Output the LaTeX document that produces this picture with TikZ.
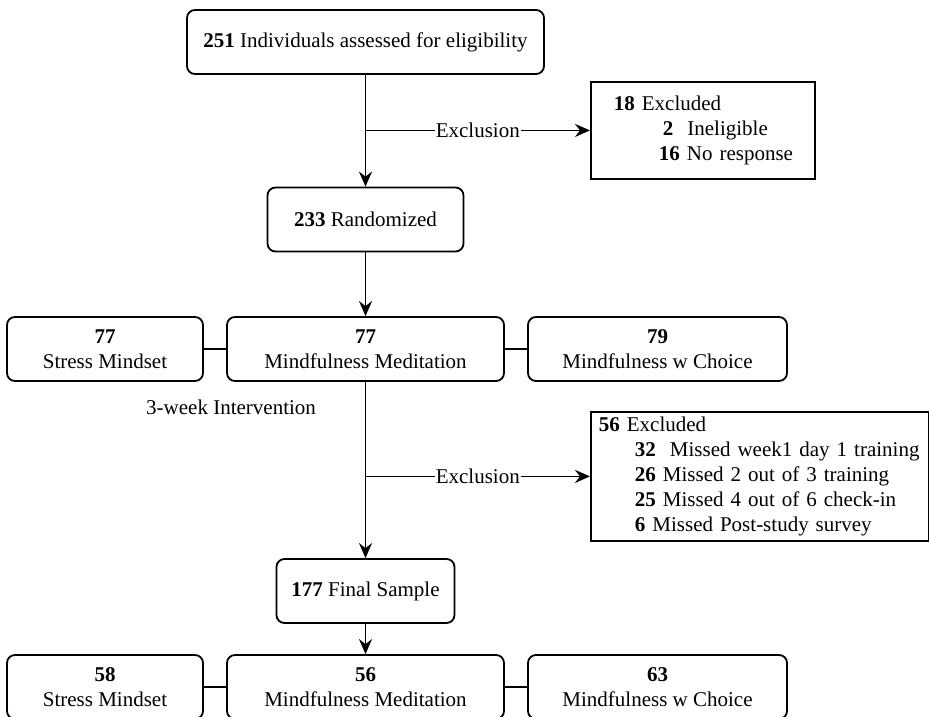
\documentclass[tikz,border=0pt]{standalone}
\usepackage{fontspec}
\setmainfont{Liberation Serif}
\usetikzlibrary{arrows.meta}

\tikzset{
    box/.style={draw, rounded corners=8pt, align=center, minimum height=64pt, inner sep=0pt},
    exclbox/.style={draw, align=left, anchor=north west, inner sep=0pt},
    flow/.style={-{Stealth[length=15pt, width=13pt, inset=5pt]}},
    tag/.style={fill=white, inner sep=1pt},
}

\begin{document}
\begin{tikzpicture}[x=1pt, y=-1pt, line width=1.8pt, font=\fontsize{21}{25}\selectfont]

    \clip (0,0) rectangle (929,716);

    % Enrollment
    \node[box, minimum width=357pt] (assess) at (365.5,42) {\textbf{251} Individuals assessed for eligibility};
    \node[box, minimum width=196pt] (random) at (365.5,219.5) {\textbf{233} Randomized};
    \node[exclbox, text width=224pt, minimum height=97pt] (excl1) at (590,81) {%
        \hspace*{23pt}\textbf{18} Excluded\\
        \hspace*{72pt}\textbf{2}\ \ Ineligible\\
        \hspace*{68pt}\textbf{16} No response};

    % Allocation
    \foreach \name/\x/\w/\n/\arm in {sm/105/196/77/Stress Mindset, mm/365.5/277/77/Mindfulness Meditation, mc/657.5/259/79/Mindfulness w Choice} {
        \node[box, minimum width=\w pt] (alloc-\name) at (\x,349) {\textbf{\n}\\\arm};
    }

    % Intervention and follow-up
    \node[anchor=west] (weeks) at (142,407) {3-week Intervention};
    \node[exclbox, text width=338pt, minimum height=129pt] (excl2) at (590,411) {%
        \hspace*{8pt}\textbf{56} Excluded\\
        \hspace*{44pt}\textbf{32}\ \ Missed week1 day 1 training\\
        \hspace*{44pt}\textbf{26} Missed 2 out of 3 training\\
        \hspace*{44pt}\textbf{25} Missed 4 out of 6 check-in\\
        \hspace*{44pt}\textbf{6} Missed Post-study survey};
    \node[box, minimum width=178pt] (final) at (365.5,591) {\textbf{177} Final Sample};

    % Analysis
    \foreach \name/\x/\w/\n/\arm in {sm/105/196/58/Stress Mindset, mm/365.5/277/56/Mindfulness Meditation, mc/657.5/259/63/Mindfulness w Choice} {
        \node[box, minimum width=\w pt] (post-\name) at (\x,687) {\textbf{\n}\\\arm};
    }

    % Connectors
    \coordinate (split1) at (assess.south |- excl1.west);
    \coordinate (split2) at (alloc-mm.south |- excl2.west);
    \draw[flow] (assess) -- (random);
    \draw[flow] (split1) -- node[tag] {Exclusion} (excl1.west);
    \draw[flow] (random) -- (alloc-mm);
    \draw (alloc-sm) -- (alloc-mm) (alloc-mm) -- (alloc-mc);
    \draw[flow] (alloc-mm) -- (final);
    \draw[flow] (split2) -- node[tag] {Exclusion} (excl2.west);
    \draw[flow] (final) -- (post-mm);
    \draw (post-sm) -- (post-mm) (post-mm) -- (post-mc);

\end{tikzpicture}
\end{document}
